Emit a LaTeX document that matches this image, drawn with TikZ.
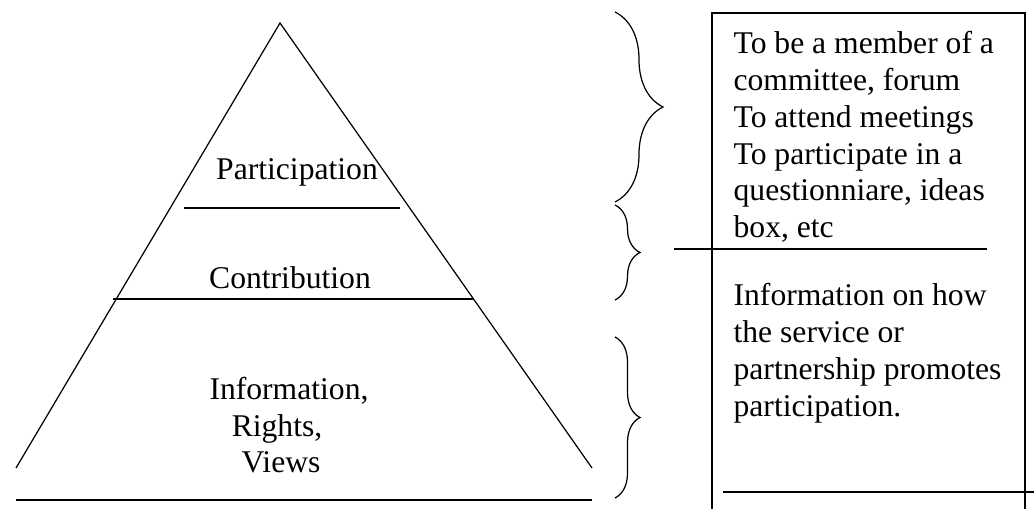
\documentclass[tikz,border=0pt]{standalone}
\usepackage{fontspec}
\setmainfont{Liberation Serif}
\usetikzlibrary{decorations.pathreplacing}

\tikzset{
    bracket/.style = {decorate, decoration = {brace, amplitude = #1}},
    level/.style = {anchor = base, inner sep = 0},
    boxtext/.style = {anchor = north west, align = left, inner sep = 0}
}

\begin{document}
\begin{tikzpicture}[x = 0.02cm, y = -0.02cm, line width = 0.7pt,
        font = \fontsize{18}{20.9}\selectfont]
            \useasboundingbox (0, 0) rectangle (1034, 509);
            % pyramid
            \draw (16, 468) -- (280, 23) -- (592, 468);
            \draw (184, 208) -- (400, 208);
            \draw (113, 299) -- (474, 299);
            \draw (16, 500) -- (592, 500);
            \node[level] (part) at (297, 180) {Participation};
            \node[level] (contr) at (290, 289) {Contribution};
            \node[level] (info) at (289, 400) {Information,};
            \node[level] (rights) at (277, 437) {Rights,};
            \node[level] (views) at (281, 473) {Views};
            % braces
            \draw[bracket = 0.96cm] (615, 12) -- (615, 202);
            \draw[bracket = 0.5cm] (615, 205) -- (615, 300);
            \draw[bracket = 0.5cm] (615, 337) -- (615, 498);
            % box
            \draw (712, 509) -- (712, 13) -- (1025, 13) -- (1025, 509);
            \draw (674, 249) -- (987, 249);
            \draw (723, 492) -- (1034, 492);
            \node[boxtext] (tasks) at (733, 31) {To be a member of a\\ committee, forum\\ To attend meetings\\ To participate in a\\ questionniare, ideas\\ box, etc};
            \node[boxtext] (promo) at (733, 283) {Information on how\\ the service or\\ partnership promotes\\ participation.};
        \end{tikzpicture}
\end{document}
